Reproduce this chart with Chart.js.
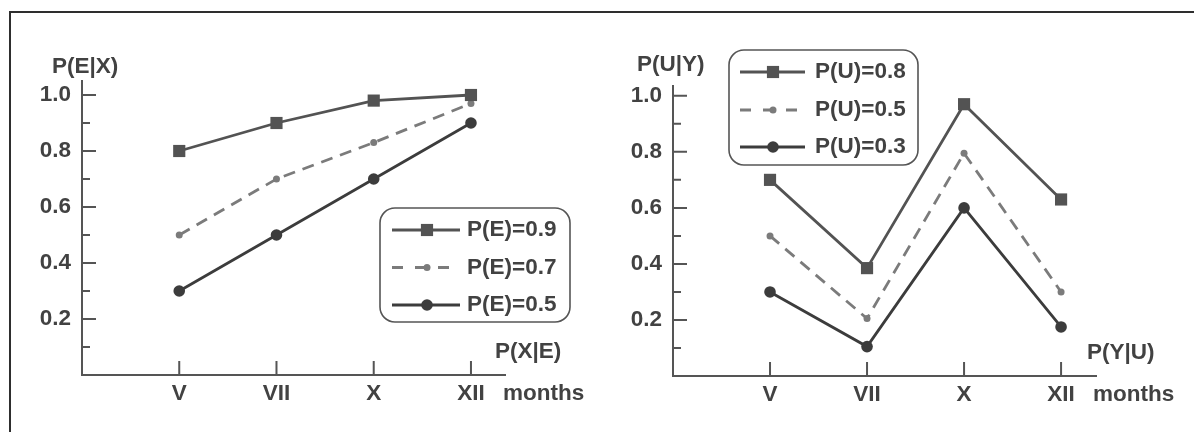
<!DOCTYPE html>
<html><head><meta charset="utf-8">
<script src="https://cdn.jsdelivr.net/npm/chart.js@4.4.1/dist/chart.umd.min.js"></script>
<style>
html,body{margin:0;padding:0;background:#fff;width:1194px;height:432px;overflow:hidden}
#frame{position:absolute;left:9px;top:11px;width:1200px;height:440px;border-top:2px solid #2e2e2e;border-left:2px solid #2e2e2e;}
.box{position:absolute;top:0;width:597px;height:432px}
</style></head><body>
<div id="frame"></div>
<div class="box" style="left:0"><canvas id="c1" width="597" height="432"></canvas></div>
<div class="box" style="left:597px"><canvas id="c2" width="597" height="432"></canvas></div>
<script>
// ---- data ----
const months = ['V', 'VII', 'X', 'XII'];
const yTickValues = [0.2, 0.4, 0.6, 0.8, 1.0];
const yTickLabels = ['0.2', '0.4', '0.6', '0.8', '1.0'];
const yMinorValues = [0.1, 0.3, 0.5, 0.7, 0.9];

const leftLabels = ['P(E)=0.9', 'P(E)=0.7', 'P(E)=0.5'];
const leftHigh = [0.80, 0.90, 0.98, 1.00];
const leftMid  = [0.50, 0.70, 0.83, 0.97];
const leftLow  = [0.30, 0.50, 0.70, 0.90];

const rightLabels = ['P(U)=0.8', 'P(U)=0.5', 'P(U)=0.3'];
const rightHigh = [0.70, 0.385, 0.97, 0.63];
const rightMid  = [0.50, 0.205, 0.795, 0.30];
const rightLow  = [0.30, 0.105, 0.60, 0.175];

// ---- style ----
const INK = '#424242';
const AXIS = '#555555';
const FONT_FAMILY = '"Liberation Sans", Arial, sans-serif';
const FONT_SIZE = 22.5;
const FONT = 'bold ' + FONT_SIZE + 'px ' + FONT_FAMILY;
const C_HIGH = '#535353', C_MID = '#7b7b7b', C_LOW = '#3c3c3c';

function series(labels, high, mid, low) {
  const pts = arr => arr.map((v, i) => ({x: i, y: v}));
  return [
    {label: labels[0], data: pts(high), borderColor: C_HIGH, backgroundColor: C_HIGH,
     pointBackgroundColor: C_HIGH, pointBorderColor: C_HIGH, borderWidth: 2.8,
     pointStyle: 'rect', pointRadius: 8.6, pointBorderWidth: 0},
    {label: labels[1], data: pts(mid), borderColor: C_MID, backgroundColor: C_MID,
     pointBackgroundColor: C_MID, pointBorderColor: C_MID, borderWidth: 2.8, borderDash: [12, 8],
     pointStyle: 'circle', pointRadius: 3.5, pointBorderWidth: 0},
    {label: labels[2], data: pts(low), borderColor: C_LOW, backgroundColor: C_LOW,
     pointBackgroundColor: C_LOW, pointBorderColor: C_LOW, borderWidth: 2.8,
     pointStyle: 'circle', pointRadius: 5.8, pointBorderWidth: 0}
  ];
}

function decor(cfg) {
  return {
    id: 'decor',
    afterDraw(chart) {
      const ctx = chart.ctx, x = chart.scales.x, y = chart.scales.y;
      ctx.save();
      ctx.strokeStyle = AXIS; ctx.lineWidth = 2; ctx.setLineDash([]);
      ctx.beginPath();
      yTickValues.forEach(v => { const py = y.getPixelForValue(v); ctx.moveTo(x.left, py); ctx.lineTo(x.left + 14, py); });
      yMinorValues.forEach(v => { const py = y.getPixelForValue(v); ctx.moveTo(x.left, py); ctx.lineTo(x.left + 8, py); });
      months.forEach((m, i) => { const px = x.getPixelForValue(i); ctx.moveTo(px, y.bottom); ctx.lineTo(px, y.bottom - 14); });
      ctx.stroke();

      ctx.fillStyle = INK; ctx.font = FONT; ctx.textBaseline = 'middle'; ctx.textAlign = 'left';
      cfg.texts.forEach(t => ctx.fillText(t.text, t.x, t.y));

      const L = cfg.legend;
      ctx.beginPath();
      ctx.roundRect(L.x0, L.y0, L.x1 - L.x0, L.y1 - L.y0, 15);
      ctx.lineWidth = 1.6; ctx.strokeStyle = AXIS; ctx.stroke();
      chart.data.datasets.forEach((ds, i) => {
        const ry = L.rows[i];
        ctx.strokeStyle = ds.borderColor; ctx.lineWidth = ds.borderWidth;
        ctx.setLineDash(ds.borderDash ? [11, 12] : []);
        ctx.beginPath(); ctx.moveTo(L.lx0, ry); ctx.lineTo(L.lx1, ry); ctx.stroke();
        ctx.setLineDash([]);
        ctx.fillStyle = ds.pointBackgroundColor;
        Chart.helpers.drawPoint(ctx, {pointStyle: ds.pointStyle, radius: ds.pointRadius, rotation: 0, borderWidth: 0}, L.mx, ry);
        ctx.fillStyle = INK;
        ctx.fillText(ds.label, L.tx, ry);
      });
      ctx.restore();
    }
  };
}

function makeChart(id, datasets, opt) {
  return new Chart(document.getElementById(id), {
    type: 'line',
    data: {datasets},
    options: {
      responsive: false, animation: false, devicePixelRatio: 1,
      layout: {padding: {top: opt.top, right: opt.right, left: 0, bottom: 0}},
      plugins: {legend: {display: false}, tooltip: {enabled: false}},
      elements: {line: {tension: 0}},
      clip: false,
      scales: {
        x: {
          type: 'linear', min: -1, max: opt.xmax,
          grid: {display: false, drawTicks: false},
          border: {display: true, color: AXIS, width: 2},
          afterBuildTicks: s => { s.ticks = months.map((m, i) => ({value: i})); },
          afterFit: s => { s.height = 432 - opt.bottom; },
          ticks: {autoSkip: false, maxRotation: 0, padding: 5, color: INK,
                  font: {family: FONT_FAMILY, size: FONT_SIZE, weight: 'bold'},
                  callback: v => months[v]}
        },
        y: {
          type: 'linear', min: 0, max: opt.ymax,
          grid: {display: false, drawTicks: false},
          border: {display: true, color: AXIS, width: 2},
          afterBuildTicks: s => { s.ticks = yTickValues.map(v => ({value: v})); },
          afterFit: s => { s.width = opt.left; },
          ticks: {padding: 11, color: INK,
                  font: {family: FONT_FAMILY, size: FONT_SIZE, weight: 'bold'},
                  callback: v => yTickLabels[yTickValues.findIndex(t => Math.abs(t - v) < 1e-6)]}
        }
      }
    },
    plugins: [decor(opt)]
  });
}

makeChart('c1', series(leftLabels, leftHigh, leftMid, leftLow), {
  top: 81, right: 92, left: 82, bottom: 375, ymax: 1.05, xmax: 3.35,
  texts: [
    {text: 'P(E|X)', x: 52, y: 67},
    {text: 'P(X|E)', x: 495, y: 352},
    {text: 'months', x: 503, y: 394}
  ],
  legend: {x0: 380, y0: 208, x1: 570, y1: 322, rows: [230, 267.5, 305], lx0: 392, lx1: 460, mx: 427, tx: 467}
});

makeChart('c2', series(rightLabels, rightHigh, rightMid, rightLow), {
  top: 86, right: 98, left: 76, bottom: 376, ymax: 1.035, xmax: 3.36,
  texts: [
    {text: 'P(U|Y)', x: 40, y: 65},
    {text: 'P(Y|U)', x: 490, y: 353},
    {text: 'months', x: 496, y: 395}
  ],
  legend: {x0: 132, y0: 50, x1: 321, y1: 165, rows: [72, 110, 147], lx0: 143, lx1: 208, mx: 176, tx: 218}
});
</script>
</body></html>
